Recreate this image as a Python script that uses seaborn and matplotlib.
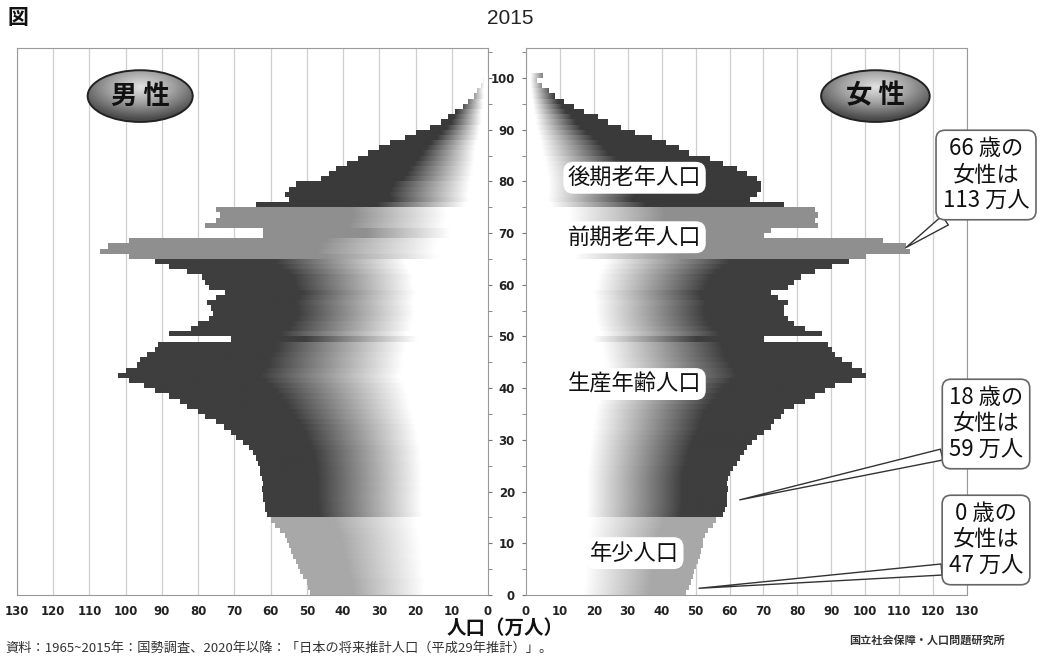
import matplotlib
matplotlib.use("Agg")
import matplotlib.pyplot as plt
import matplotlib.patches as mpatches
from matplotlib.colors import LinearSegmentedColormap
from matplotlib.ticker import MultipleLocator
import seaborn as sns
import pandas as pd
import numpy as np

# population by single year of age, 2015 (万人)
ages = list(range(0, 101))
male = [49, 49.6, 50, 51, 51.8, 52.5, 53, 53.8, 54.5, 55,
        55.5, 56, 57.5, 58.7, 60, 61, 61.5, 61.5, 62, 62,
        62.5, 62, 62.5, 63, 63, 63.5, 64, 65, 66, 67.5,
        69.5, 71, 73, 75, 78, 80, 83, 85, 88, 92,
        95, 99, 102, 100, 97, 96, 94, 92, 91, 71,
        88, 82, 80, 77, 76, 76.5, 77.5, 75, 72.5, 77,
        78, 79, 83, 88, 92, 99, 107, 105, 99, 62,
        62, 78, 75, 74, 75, 64, 55, 56, 55, 53,
        46, 44, 42, 39, 36, 33, 30, 27, 23, 20,
        16, 13, 11, 9, 7, 5.5, 4, 3, 2, 1.5, 1]
female = [47, 48, 48.5, 49, 49.5, 50, 50.5, 51, 51.5, 52,
          52, 52.5, 53.5, 55, 56, 58, 58.5, 59, 59, 59,
          59.5, 59, 59.5, 60, 61, 62, 63, 64, 65, 66.5,
          68, 70, 72, 73, 75, 76, 79, 82, 85, 88,
          91, 96, 100, 99, 96, 93, 91, 90, 89, 70,
          87, 82, 79, 77, 76, 76, 77, 74, 72, 77,
          79, 81, 85, 90, 95, 100, 113, 112, 105, 70,
          72, 86, 85, 86, 85, 76, 66, 68, 69, 69,
          68, 65, 62, 58, 54, 48, 45, 41, 37, 32,
          28, 24, 21, 17, 14, 11, 8.5, 6.5, 4.5, 3, 5]

age_ticks = list(range(0, 101, 10))
pop_ticks = list(range(0, 131, 10))

band_starts = [0, 15, 65, 75]
band_names = ['年少人口', '生産年齢人口', '前期老年人口', '後期老年人口']
band_colors = ['#a8a8a8', '#3e3e3e', '#8f8f8f', '#3a3a3a']
# fade from white to the band colour: (relative start, relative end,
# absolute start, absolute end, share of the absolute part)
band_ramps = [(0.35, 0.75, 18, 38, 0.3),
              (0.3, 0.78, 18, 46, 0.5),
              (0.15, 0.5, 12, 38, 0.4),
              (0.1, 0.5, 5, 25, 0.2)]
label_ages = [8.1, 40.8, 69.2, 80.7]

callout_ages = [66, 18, 0]

sns.set_style("white")
plt.rcParams['font.family'] = ['Noto Sans CJK JP', 'DejaVu Sans']

W, H = 1046, 661
fig = plt.figure(figsize=(W / 100, H / 100), dpi=100)
ax_m = fig.add_axes([17 / W, 66 / H, 471 / W, 547 / H])
ax_f = fig.add_axes([526 / W, 66 / H, 441 / W, 547 / H])

df = pd.DataFrame({'age': ages, 'male': male, 'female': female})
df['mid'] = df['age'] + 0.5

cmaps = [LinearSegmentedColormap.from_list('band', ['white', c]) for c in band_colors]


def draw_side(ax, col):
    sns.barplot(data=df, x=col, y='mid', orient='h', native_scale=True,
                width=1.0, color='#555555', errorbar=None, linewidth=0, ax=ax)
    for p in list(ax.patches):
        y0, h, w = p.get_y(), p.get_height(), p.get_width()
        band = np.searchsorted(band_starts, y0 + h / 2, side='right') - 1
        ra, rb, aa, ab, mix = band_ramps[band]
        a = (1 - mix) * ra * w + mix * aa
        b = (1 - mix) * rb * w + mix * ab
        v = np.linspace(0, w, 256)
        shade = np.clip((v - a) / max(b - a, 1e-6), 0, 1)[None, :]
        p.set_facecolor('none')
        im = ax.imshow(shade, extent=[0, w, y0, y0 + h], cmap=cmaps[band],
                       vmin=0, vmax=1, aspect='auto', interpolation='bilinear',
                       zorder=2)
        im.set_clip_path(p)
    ax.set_ylim(0, 105.8)
    ax.set_xticks(pop_ticks)
    ax.xaxis.grid(True, color='#cfcfcf', lw=0.9)
    ax.set_axisbelow(True)
    ax.set_xlabel('')
    ax.set_ylabel('')
    for s in ax.spines.values():
        s.set_color('#9a9a9a')
        s.set_linewidth(0.8)
    ax.tick_params(axis='x', labelsize=8.5, length=3, color='#777', pad=4,
                   labelcolor='#222')
    for t in ax.get_xticklabels():
        t.set_fontweight('bold')
        t.set_family('DejaVu Sans')


draw_side(ax_m, 'male')
draw_side(ax_f, 'female')
ax_m.set_xlim(130, 0)
ax_f.set_xlim(0, 130)

# age axis between the panels
ax_m.yaxis.tick_right()
ax_m.yaxis.set_major_locator(MultipleLocator(10))
ax_m.yaxis.set_minor_locator(MultipleLocator(5))
ax_m.tick_params(axis='y', which='both', length=3, color='#777', labelright=False)
ax_f.yaxis.tick_left()
ax_f.set_yticks(age_ticks)
ax_f.yaxis.set_minor_locator(MultipleLocator(5))
ax_f.tick_params(axis='y', which='both', length=3, color='#777', pad=5,
                 labelsize=8.5, labelcolor='#222')
for t in ax_f.get_yticklabels():
    t.set_fontweight('bold')
    t.set_family('DejaVu Sans')

# gender badges with a radial shading
badge_cmap = LinearSegmentedColormap.from_list('badge', ['#e2e2e2', '#a0a0a0', '#4a4a4a'])
yy, xx = np.mgrid[-1:1:120j, -1:1:200j]
radial = np.sqrt(xx ** 2 + (yy + 0.35) ** 2)
for ax, cx, wd, txt in [(ax_m, 96, 29, '男 性'), (ax_f, 103, 32, '女 性')]:
    ell = mpatches.Ellipse((cx, 96.5), wd, 10, fc='none', ec='#222', lw=1.4, zorder=5)
    ax.add_patch(ell)
    lo, hi = sorted([cx - wd / 2, cx + wd / 2])
    im = ax.imshow(radial, extent=[cx - wd / 2, cx + wd / 2, 91.5, 101.5],
                   cmap=badge_cmap, vmin=0, vmax=1.25, aspect='auto', zorder=4)
    im.set_clip_path(ell)
    ax.text(cx, 96.5, txt, ha='center', va='center', fontsize=19,
            fontweight='bold', color='#111', zorder=6)
ax_m.set_xlim(130, 0)
ax_f.set_xlim(0, 130)
ax_m.set_ylim(0, 105.8)
ax_f.set_ylim(0, 105.8)

# band labels
for name, a in zip(band_names, label_ages):
    ax_f.text(32, a, name, ha='center', va='center', fontsize=16, color='#111',
              zorder=5, bbox=dict(boxstyle='round,pad=0.2,rounding_size=0.45',
                                  fc='white', ec='none'))

# callouts
callout_pos = [(986, H - 175), (986, H - 424), (986, H - 540)]
callout_tip = [(female[66] - 1, 67.2), (female[18] + 4, 18.4), (female[0] + 4, 1.3)]
callout_rel = [(0.15, 0.0), (0.0, 0.12), (0.0, 0.12)]
for a, pos, tip, rel in zip(callout_ages, callout_pos, callout_tip, callout_rel):
    txt = f"{a} 歳の\n女性は\n{int(round(female[a]))} 万人"
    ax_f.annotate(txt, xy=tip, xycoords='data', xytext=pos,
                  textcoords='figure pixels', ha='center', va='center',
                  fontsize=16, linespacing=1.2, color='#111', zorder=6,
                  annotation_clip=False,
                  bbox=dict(boxstyle='round,pad=0.3,rounding_size=0.4',
                            fc='white', ec='#666', lw=1.2),
                  arrowprops=dict(arrowstyle='wedge,tail_width=0.5,shrink_factor=0.5',
                                  fc='white', ec='#333', lw=1.0, relpos=rel,
                                  shrinkA=0, shrinkB=0))

# titles and notes
fig.text(510 / W, 1 - 18 / H, '2015', ha='center', va='center', fontsize=15,
         color='#222', family='Liberation Sans')
fig.text(18 / W, 1 - 18 / H, '図', ha='center', va='center', fontsize=15,
         fontweight='bold', color='#111')
fig.text(505 / W, 1 - 628 / H, '人口（万人）', ha='center', va='center',
         fontsize=14, fontweight='bold', color='#111')
fig.text(5 / W, 1 - 648 / H,
         '資料：1965~2015年：国勢調査、2020年以降：「日本の将来推計人口（平成29年推計）」。',
         ha='left', va='center', fontsize=9.5, color='#333')
fig.text(1005 / W, 1 - 640 / H, '国立社会保障・人口問題研究所', ha='right',
         va='center', fontsize=8, fontweight='bold', color='#333')

fig.savefig('out.png', dpi=100)
